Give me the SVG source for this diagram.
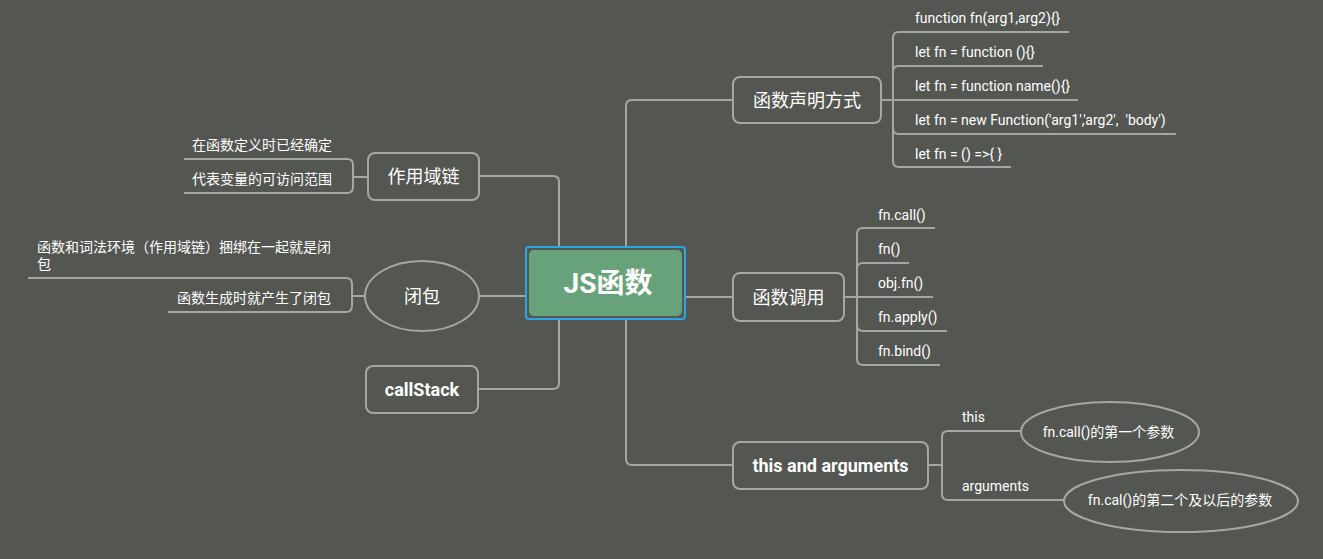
<svg xmlns="http://www.w3.org/2000/svg" width="1323" height="559" viewBox="0 0 1323 559">
<style>
text{font-family:Roboto,"Noto Sans CJK SC",sans-serif;fill:#ffffff;dominant-baseline:central}
.c{font-size:14px}
.e{font-size:14px;text-anchor:middle}
.n{font-size:18px;text-anchor:middle}
.b{font-size:18px;font-weight:bold;text-anchor:middle}
.ln{fill:none;stroke:#a6a7a3;stroke-width:2}
.box{fill:none;stroke:#a6a7a3;stroke-width:2}
</style>
<rect width="1323" height="559" fill="#545652"/>
<g id="connectors" class="ln">
<path d="M559 247 V182 Q559 176 553 176 H479"/>
<path d="M626 247 V106 Q626 100 632 100 H733"/>
<path d="M526 296 H479"/>
<path d="M559 319 V383 Q559 389 553 389 H478"/>
<path d="M685 297 H733"/>
<path d="M626 319 V459 Q626 465 632 465 H733"/>
<path d="M881 100 H893 V38 Q893 32 899 32 H1069"/>
<path d="M893 100 V72 Q893 66 899 66 H1043"/>
<path d="M881 100 H1078"/>
<path d="M893 100 V128 Q893 134 899 134 H1176"/>
<path d="M893 100 V161 Q893 167 899 167 H1011"/>
<path d="M844 297 H857 V234 Q857 228 863 228 H935"/>
<path d="M857 297 V269 Q857 263 863 263 H909"/>
<path d="M844 297 H933"/>
<path d="M857 297 V325 Q857 331 863 331 H947"/>
<path d="M857 297 V359 Q857 365 863 365 H940"/>
<path d="M368 177 H353 V165 Q353 159 347 159 H184"/>
<path d="M353 177 V187 Q353 193 347 193 H184"/>
<path d="M365 296 H352 V284 Q352 278 346 278 H28"/>
<path d="M352 296 V306 Q352 312 346 312 H168"/>
<path d="M928 465 H942 V437 Q942 431 948 431 H1021"/>
<path d="M942 465 V494 Q942 500 948 500 H1064"/>
</g>
<g id="center">
<rect x="526" y="247" width="159" height="72" rx="3" fill="none" stroke="#2aa6e3" stroke-width="2"/>
<rect x="529" y="250" width="153" height="66" rx="5" fill="#68a27b"/>
<text x="608" y="283" style="font-size:28px;font-weight:bold;text-anchor:middle">JS函数</text>
</g>
<g id="decl">
<rect class="box" x="733" y="77" width="148" height="46" rx="7"/>
<text class="n" x="807" y="100">函数声明方式</text>
</g>
<g id="decl-children">
<text class="c" x="915" y="18">function fn(arg1,arg2){}</text>
<text class="c" x="915" y="52">let fn = function (){}</text>
<text class="c" x="915" y="86">let fn = function name(){}</text>
<text class="c" x="915" y="120" xml:space="preserve">let fn = new Function('arg1','arg2',  'body')</text>
<text class="c" x="915" y="154">let fn = () =&gt;{ }</text>
</g>
<g id="call">
<rect class="box" x="733" y="273" width="111" height="48" rx="7"/>
<text class="n" x="788.5" y="297">函数调用</text>
</g>
<g id="call-children">
<text class="c" x="878" y="215">fn.call()</text>
<text class="c" x="878" y="249">fn()</text>
<text class="c" x="878" y="283">obj.fn()</text>
<text class="c" x="878" y="317">fn.apply()</text>
<text class="c" x="878" y="351">fn.bind()</text>
</g>
<g id="this-args">
<rect class="box" x="733" y="442" width="195" height="47" rx="7"/>
<text class="b" x="830.5" y="465">this and arguments</text>
</g>
<g id="this-args-children">
<text class="c" x="962" y="417">this</text>
<text class="c" x="962" y="486">arguments</text>
</g>
<g id="this-ellipse">
<ellipse class="box" cx="1110" cy="432" rx="89" ry="30"/>
<text class="e" x="1108.5" y="432">fn.call()的第一个参数</text>
</g>
<g id="args-ellipse">
<ellipse class="box" cx="1181" cy="501" rx="117" ry="31"/>
<text class="e" x="1180" y="500">fn.cal()的第二个及以后的参数</text>
</g>
<g id="scope">
<rect class="box" x="368" y="153" width="111" height="47" rx="7"/>
<text class="n" x="423.5" y="176">作用域链</text>
</g>
<g id="scope-children">
<text class="c" x="192" y="145">在函数定义时已经确定</text>
<text class="c" x="192" y="179">代表变量的可访问范围</text>
</g>
<g id="closure">
<ellipse class="box" cx="422" cy="296" rx="57" ry="35"/>
<text class="n" x="422" y="296">闭包</text>
</g>
<g id="closure-children">
<text class="c" x="37" y="247">函数和词法环境（作用域链）捆绑在一起就是闭</text>
<text class="c" x="37" y="264">包</text>
<text class="c" x="177" y="298">函数生成时就产生了闭包</text>
</g>
<g id="callstack">
<rect class="box" x="366" y="366" width="112" height="47" rx="7"/>
<text class="b" x="422" y="389">callStack</text>
</g>
</svg>
